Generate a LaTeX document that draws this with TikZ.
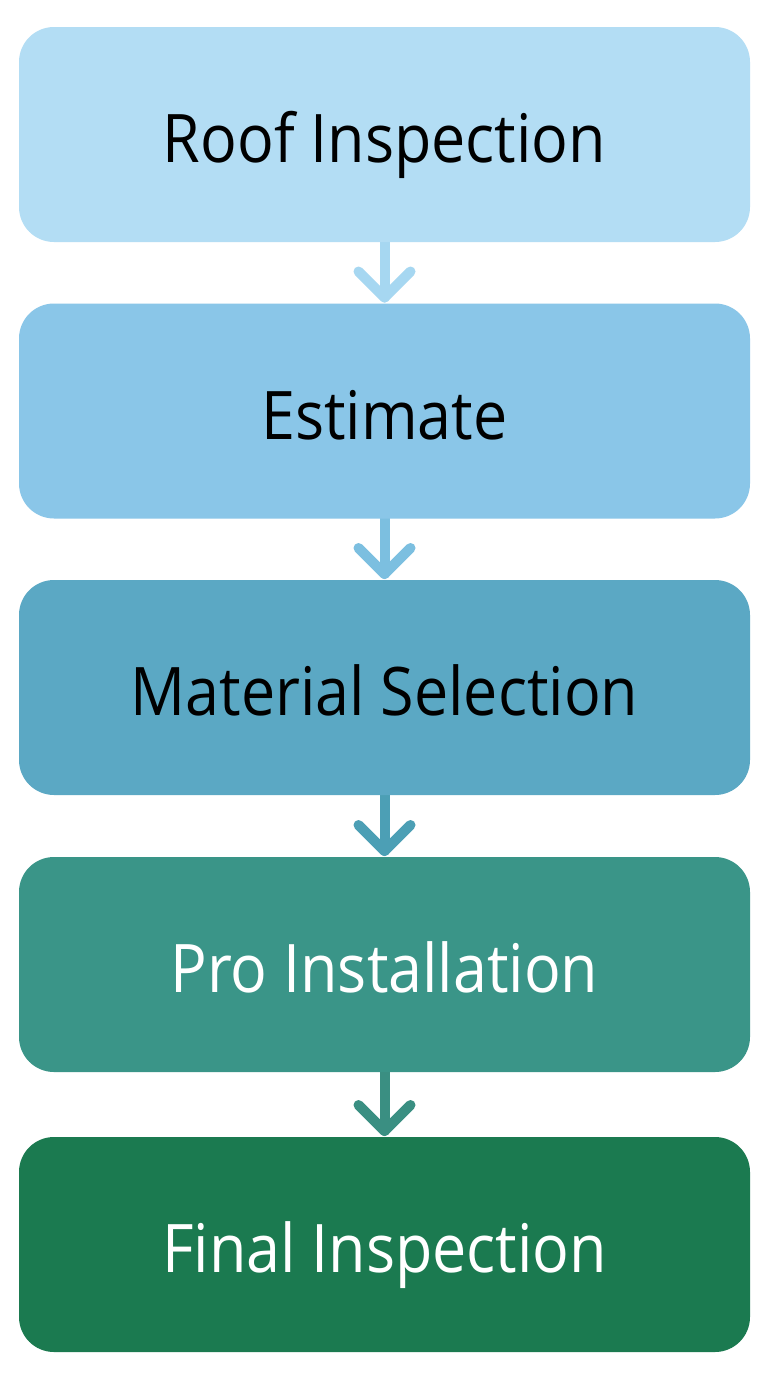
\documentclass[tikz,border=0pt]{standalone}
\usepackage{fontspec}
\setmainfont{Open Sans}[FakeStretch=0.91]
\usetikzlibrary{calc}
\definecolor{cA}{HTML}{B3DDF4}
\definecolor{cB}{HTML}{8AC6E8}
\definecolor{cC}{HTML}{5BA8C4}
\definecolor{cD}{HTML}{3A9588}
\definecolor{cE}{HTML}{1B7A50}
\definecolor{aA}{HTML}{A6D7F1}
\definecolor{aB}{HTML}{7CBFE0}
\definecolor{aC}{HTML}{4C9FB5}
\definecolor{aD}{HTML}{3A8F82}
\tikzset{
  stepbox/.style={rectangle, rounded corners=35pt, minimum width=731pt, minimum height=215pt, inner sep=0pt},
  steplabel/.style={inner sep=0pt, text height=48pt, text depth=0pt, yshift=-4pt, font=\fontsize{67}{70}\selectfont},
  flowarrow/.style={line width=10pt, line cap=round, line join=round}
}
\begin{document}
\begin{tikzpicture}[x=1pt,y=-1pt]
\useasboundingbox (0,0) rectangle (768,1376);
\fill[white] (0,0) rectangle (768,1376);
\coordinate (p1) at (384.5,134.5);
\coordinate (p2) at (384.5,411);
\coordinate (p3) at (384.5,687.5);
\coordinate (p4) at (384.5,964.5);
\coordinate (p5) at (384.5,1244.5);
% arrows
\foreach \i/\j/\c in {1/2/aA,2/3/aB,3/4/aC,4/5/aD}{
  \coordinate (t\i) at ($(p\j)+(0,-107.5-6)$);
  \draw[flowarrow, draw=\c] ($(p\i)+(0,100)$) -- (t\i);
  \draw[flowarrow, draw=\c] ($(t\i)+(-26,-26)$) -- (t\i) -- ($(t\i)+(26,-26)$);
}
\foreach \i/\c in {1/cA,2/cB,3/cC,4/cD,5/cE}{
  \node[stepbox, fill=\c] (b\i) at (p\i) {};
}
\node[steplabel, text=black] (l1) at (b1) {Roof Inspection};
\node[steplabel, text=black] (l2) at (b2) {Estimate};
\node[steplabel, text=black] (l3) at (b3) {Material Selection};
\node[steplabel, text=white] (l4) at (b4) {Pro Installation};
\node[steplabel, text=white] (l5) at (b5) {Final Inspection};
\end{tikzpicture}
\end{document}
